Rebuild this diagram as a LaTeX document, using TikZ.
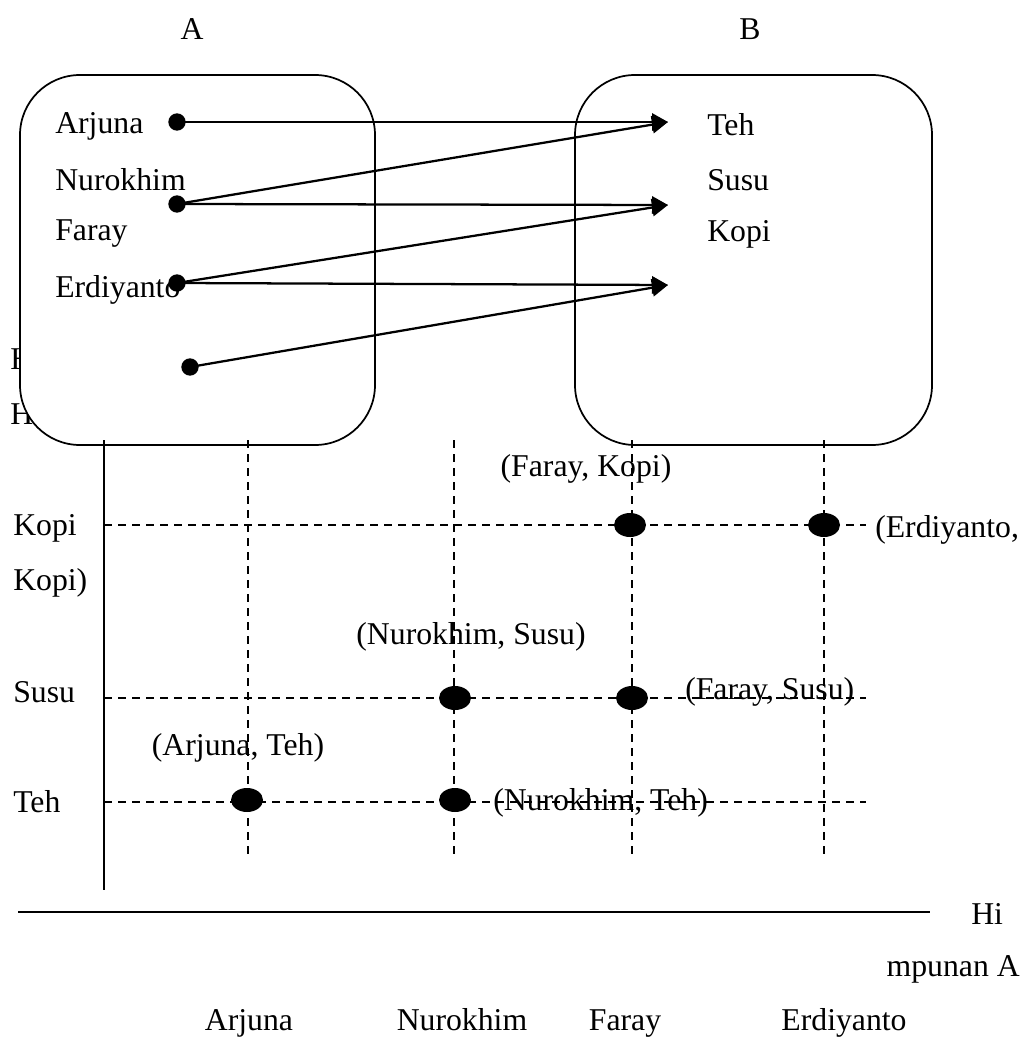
\documentclass[tikz,border=0pt]{standalone}
\usepackage{fontspec}
\setmainfont{Liberation Serif}
\usetikzlibrary{arrows.meta,shapes.geometric}
\begin{document}
\begin{tikzpicture}[x=0.75pt,y=-0.75pt,
  every node/.style={font=\fontsize{23.8}{28}\selectfont, inner sep=0pt},
  setbox/.style={draw, line width=1.3pt, fill=white, rounded corners=45pt},
  arr/.style={line width=1.7pt, -{Triangle[length=12pt,width=13pt]}},
  bdot/.style={circle, fill=black, minimum size=13pt, inner sep=0pt},
  edot/.style={ellipse, fill=black, minimum width=24pt, minimum height=18pt, inner sep=0pt},
  axis/.style={line width=1.2pt},
  grid/.style={line width=1pt, dash pattern=on 6pt off 4.5pt},
  lbl/.style={anchor=west}]
\useasboundingbox (0,0) rectangle (1030,1037);
% text hidden behind box A
\node[lbl] (h1) at (10,359) {H};
\node[lbl] (h2) at (10,414) {H};
% set titles
\node (tA) at (192,29) {A};
\node (tB) at (750,29) {B};
% boxes
\draw[setbox] (20,75) rectangle (375,445);
\draw[setbox] (575,75) rectangle (932,445);
% set A members
\node[lbl] (a1) at (55,126) {Arjuna};
\node[lbl] (a2) at (55,180) {Nurokhim};
\node[lbl] (a3) at (55,234) {Faray};
\node[lbl] (a4) at (55,290) {Erdiyanto};
% set B members
\node[lbl] (b1) at (707,125) {Teh};
\node[lbl] (b2) at (707,180) {Susu};
\node[lbl] (b3) at (707,234) {Kopi};
% dots
\node[bdot] (d1) at (177,122) {};
\node[bdot] (d2) at (177,204) {};
\node[bdot] (d3) at (177,283) {};
\node[bdot] (d4) at (190,367) {};
\coordinate (e1) at (668,122);
\coordinate (e2) at (668,205);
\coordinate (e3) at (668,285);
% arrows
\draw[arr] (d1.center) -- (e1);
\draw[arr] (d2.center) -- (e1);
\draw[arr] (d2.center) -- (e2);
\draw[arr] (d3.center) -- (e2);
\draw[arr] (d3.center) -- (e3);
\draw[arr] (d4.center) -- (e3);
% ----- lower graph -----
\node[lbl] (yk) at (13,528) {Kopi};
\node[lbl] (yk2) at (13,583) {Kopi)};
\node[lbl] (ys) at (13,692) {Susu};
\node[lbl] (yt) at (13,802) {Teh};
\node[anchor=base] (xa) at (249,1030) {Arjuna};
\node[anchor=base] (xn) at (462,1030) {Nurokhim};
\node[anchor=base] (xf) at (625,1030) {Faray};
\node[anchor=base] (xe) at (844,1030) {Erdiyanto};
\node[lbl] (hi) at (971,914) {Hi};
\node[anchor=east] (hi2) at (1020,969) {mpunan A};
% pair labels
\node (pfk) at (586,469) {(Faray, Kopi)};
\node[lbl] (pek) at (875,530) {(Erdiyanto,};
\node (pns) at (471,637) {(Nurokhim, Susu)};
\node[lbl] (pfs) at (685,692) {(Faray, Susu)};
\node (pat) at (238,748) {(Arjuna, Teh)};
\node[lbl] (pnt) at (493,803) {(Nurokhim, Teh)};
% axes
\coordinate (vtop) at (104,440);
\coordinate (vbot) at (104,890);
\coordinate (hl) at (18,912);
\coordinate (hr) at (930,912);
\draw[axis] (vtop) -- (vbot);
\draw[axis] (hl) -- (hr);
% dashed grid
\coordinate (ga0) at (248,440); \coordinate (ga1) at (248,856);
\coordinate (gn0) at (454,440); \coordinate (gn1) at (454,856);
\coordinate (gf0) at (632,440); \coordinate (gf1) at (632,856);
\coordinate (ge0) at (824,440); \coordinate (ge1) at (824,856);
\coordinate (hk0) at (104,525); \coordinate (hk1) at (866,525);
\coordinate (hs0) at (104,698); \coordinate (hs1) at (866,698);
\coordinate (ht0) at (104,802); \coordinate (ht1) at (866,802);
\draw[grid] (ga0) -- (ga1);
\draw[grid] (gn0) -- (gn1);
\draw[grid] (gf0) -- (gf1);
\draw[grid] (ge0) -- (ge1);
\draw[grid] (hk0) -- (hk1);
\draw[grid] (hs0) -- (hs1);
\draw[grid] (ht0) -- (ht1);
% points
\node[edot] (p1) at (630,525) {};
\node[edot] (p2) at (824,525) {};
\node[edot] (p3) at (455,698) {};
\node[edot] (p4) at (632,698) {};
\node[edot] (p5) at (247,800) {};
\node[edot] (p6) at (455,800) {};
\end{tikzpicture}
\end{document}
